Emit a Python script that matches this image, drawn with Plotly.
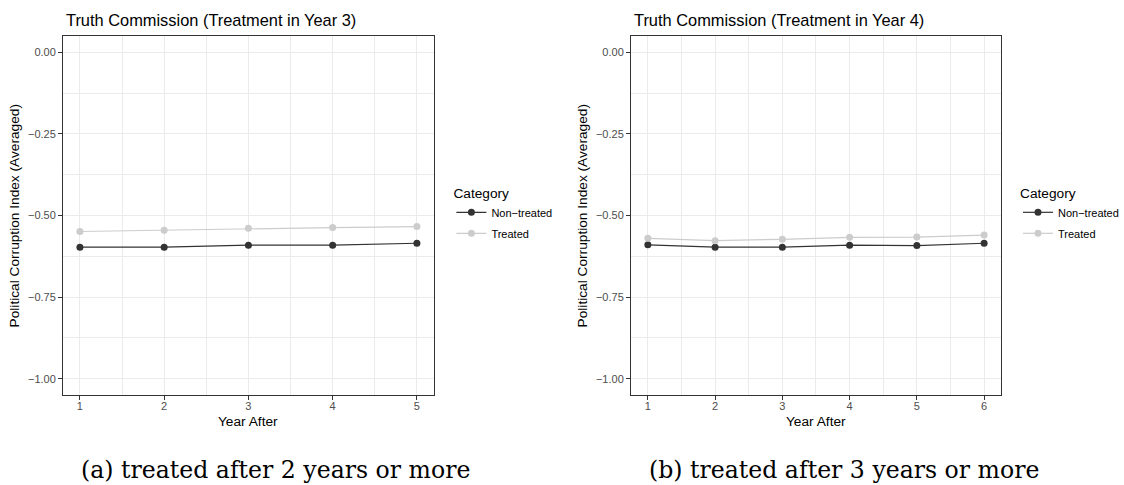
import plotly.graph_objects as go

# ---------------- data ----------------
years_a = [1, 2, 3, 4, 5]
nontreated_a = [-0.597, -0.597, -0.591, -0.591, -0.585]
treated_a = [-0.549, -0.545, -0.539, -0.537, -0.534]

years_b = [1, 2, 3, 4, 5, 6]
nontreated_b = [-0.590, -0.597, -0.597, -0.591, -0.592, -0.585]
treated_b = [-0.570, -0.577, -0.573, -0.567, -0.566, -0.560]

y_tick_vals = [0.0, -0.25, -0.5, -0.75, -1.0]
y_tick_text = ["0.00", "\u22120.25", "\u22120.50", "\u22120.75", "\u22121.00"]
category_labels = ["Non\u2212treated", "Treated"]
legend_title = "Category"
panel_titles = ["Truth Commission (Treatment in Year 3)",
                "Truth Commission (Treatment in Year 4)"]
x_title = "Year After"
y_title = "Political Corruption Index (Averaged)"
captions = ["(a) treated after 2 years or more",
            "(b) treated after 3 years or more"]

# ---------------- layout helpers ----------------
W, H = 1124, 485
def px(x):
    return x / W
def py(y):
    return (H - y) / H

SANS = "Liberation Sans, Arial, Helvetica, sans-serif"
SERIF = "DejaVu Serif, serif"
DARK = "#333333"
LIGHT = "#CCCCCC"
GRID = "#EBEBEB"

fig = go.Figure()

def add_series(xs, ys, name, color, xa, ya, legend, group):
    fig.add_trace(go.Scatter(
        x=xs, y=ys, mode="lines+markers", name=name,
        line=dict(color=color, width=1.2),
        marker=dict(color=color, size=7),
        xaxis=xa, yaxis=ya, legend=legend, legendgroup=group,
    ))

add_series(years_a, nontreated_a, category_labels[0], DARK, "x", "y", "legend", "a_nt")
add_series(years_a, treated_a, category_labels[1], LIGHT, "x", "y", "legend", "a_t")
add_series(years_b, nontreated_b, category_labels[0], DARK, "x2", "y2", "legend2", "b_nt")
add_series(years_b, treated_b, category_labels[1], LIGHT, "x2", "y2", "legend2", "b_t")

def mids(vals):
    s = sorted(vals)
    return [(s[i] + s[i + 1]) / 2 for i in range(len(s) - 1)]

def xaxis_style(domain, years, rng, anchor):
    return dict(
        domain=domain, range=rng, anchor=anchor,
        tickmode="array", tickvals=years, ticktext=[str(v) for v in years],
        showline=True, mirror=True, linecolor=DARK, linewidth=1.1,
        ticks="outside", ticklen=4, tickwidth=1, tickcolor=DARK,
        ticklabelstandoff=-3,
        tickfont=dict(family=SANS, size=11, color="#4D4D4D"),
        showgrid=True, gridcolor=GRID, gridwidth=1.2, zeroline=False,
        minor=dict(tickvals=mids(years), showgrid=True, gridcolor=GRID,
                   gridwidth=0.8, ticks=""),
    )

def yaxis_style(domain, anchor):
    return dict(
        domain=domain, range=[-1.05, 0.05], anchor=anchor,
        tickmode="array", tickvals=y_tick_vals, ticktext=y_tick_text,
        showline=True, mirror=True, linecolor=DARK, linewidth=1.1,
        ticks="outside", ticklen=4, tickwidth=1, tickcolor=DARK,
        tickfont=dict(family=SANS, size=11, color="#4D4D4D"),
        showgrid=True, gridcolor=GRID, gridwidth=1.2, zeroline=False,
        minor=dict(tickvals=mids(y_tick_vals), showgrid=True, gridcolor=GRID,
                   gridwidth=0.8, ticks=""),
    )

ydom = [py(395), py(36)]

def legend_style(x_left):
    return dict(
        x=px(x_left), y=py(180), xanchor="left", yanchor="top",
        title=dict(text=legend_title, font=dict(family=SANS, size=13.7, color="black")),
        font=dict(family=SANS, size=11, color="black"),
        bgcolor="rgba(0,0,0,0)", borderwidth=0,
        tracegroupgap=2, itemwidth=30,
    )

annotations = []
def ann(text, x, y, size, family=SANS, angle=0, xanchor="center", yanchor="middle", color="black"):
    annotations.append(dict(
        text=text, x=px(x), y=py(y), xref="paper", yref="paper",
        showarrow=False, xanchor=xanchor, yanchor=yanchor, textangle=angle,
        font=dict(family=family, size=size, color=color),
    ))

# panel titles
ann(panel_titles[0], 64, 20, 16.4, xanchor="left")
ann(panel_titles[1], 634, 20, 16.4, xanchor="left")
# axis titles
ann(y_title, 15, 215.5, 13.7, angle=-90)
ann(y_title, 585, 215.5, 13.7, angle=-90)
ann(x_title, 249.3, 421.7, 13.7)
ann(x_title, 818.9, 421.7, 13.7)
# captions
ann(captions[0], 276.7, 470, 23.6, family=SERIF)
ann(captions[1], 847, 470, 23.6, family=SERIF)

fig.update_layout(
    width=W, height=H, autosize=False,
    margin=dict(l=0, r=0, t=0, b=0),
    paper_bgcolor="white", plot_bgcolor="white",
    xaxis=xaxis_style([px(63.3), px(435.3)], years_a, [0.8, 5.2], "y"),
    yaxis=yaxis_style(ydom, "x"),
    xaxis2=xaxis_style([px(633.3), px(1004.5)], years_b, [0.75, 6.25], "y2"),
    yaxis2=yaxis_style(ydom, "x2"),
    legend=legend_style(453),
    legend2=legend_style(1022),
    annotations=annotations,
    showlegend=True,
)

fig.write_html(
    "out.html",
    config={"displayModeBar": False},
    post_script="document.body.style.margin='0';document.body.style.padding='0';document.body.style.overflow='hidden';",
)
